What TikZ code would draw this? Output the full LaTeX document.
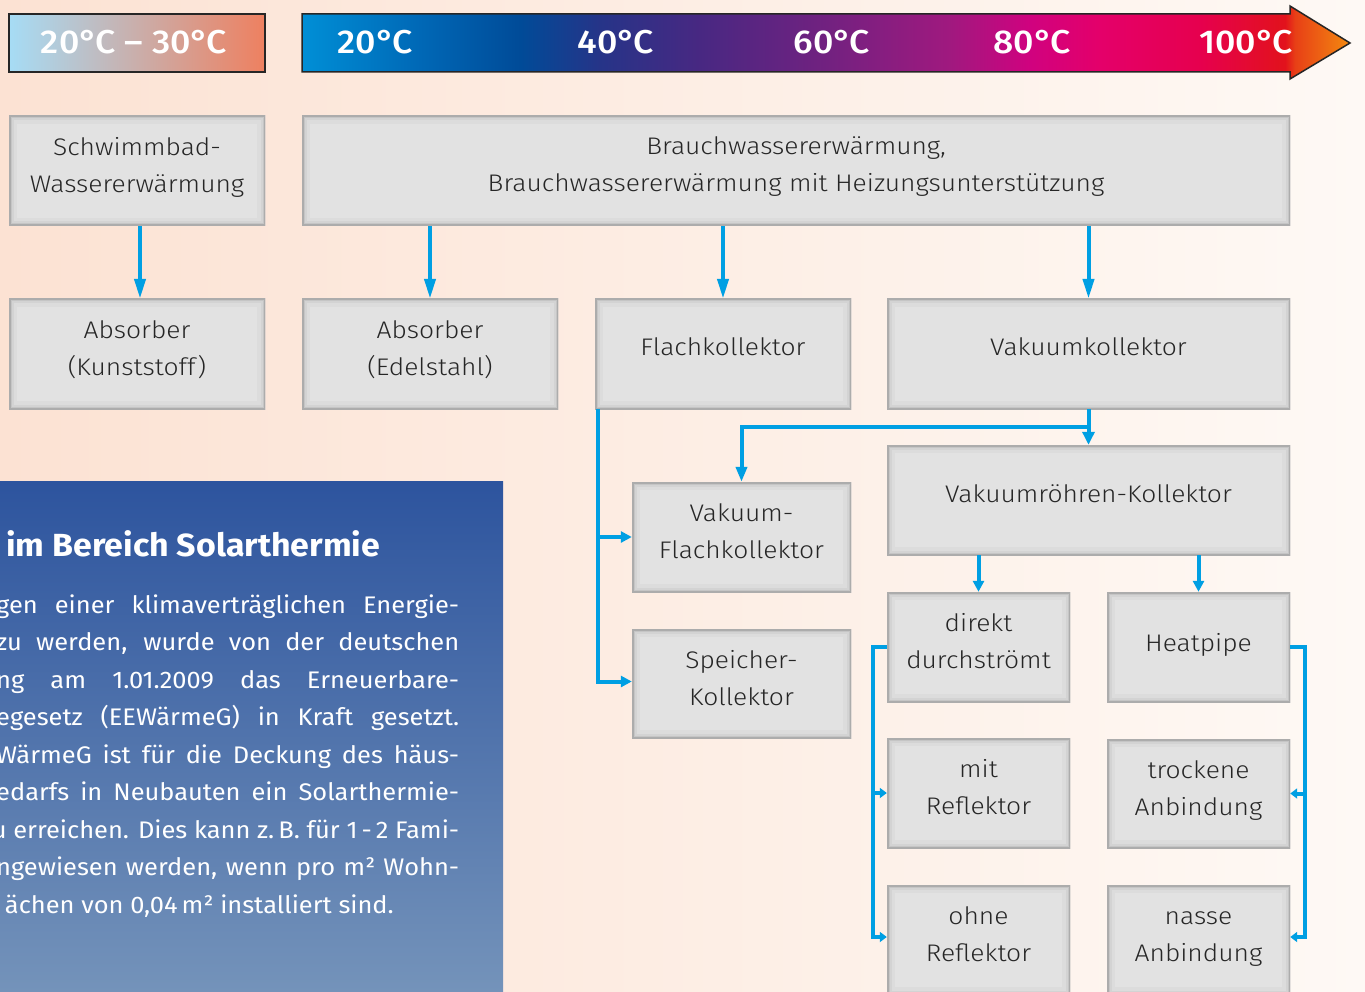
\documentclass[tikz,border=0pt]{standalone}
\usepackage{fontspec}
\setmainfont{Fira Sans}[FakeStretch=1.06]
\newfontfamily\boxfont{Fira Sans Light}[FakeStretch=1.1]
\newfontfamily\medfont{Fira Sans Medium}[FakeStretch=1.08]
\usetikzlibrary{arrows.meta,calc}

\definecolor{bgL}{RGB}{252,226,211}
\definecolor{bgR}{RGB}{254,249,245}
\definecolor{arrblue}{RGB}{0,159,227}
\definecolor{boxfill}{RGB}{226,226,226}
\definecolor{boxedge}{RGB}{172,172,172}
\definecolor{band1}{RGB}{220,220,220}
\definecolor{band2}{RGB}{211,211,211}
\definecolor{band3}{RGB}{197,197,197}
\definecolor{txtgray}{RGB}{38,38,38}
\definecolor{panelTop}{RGB}{45,84,158}
\definecolor{panelBot}{RGB}{116,147,186}
\definecolor{legL}{RGB}{166,220,245}
\definecolor{legR}{RGB}{238,128,96}
\definecolor{t1}{RGB}{0,143,214}
\definecolor{t2}{RGB}{0,104,182}
\definecolor{t3}{RGB}{0,75,152}
\definecolor{t4}{RGB}{38,52,136}
\definecolor{t5}{RGB}{72,40,130}
\definecolor{t6}{RGB}{115,33,128}
\definecolor{t7}{RGB}{160,25,127}
\definecolor{t8}{RGB}{208,2,127}
\definecolor{t9}{RGB}{228,0,106}
\definecolor{t10}{RGB}{230,0,78}
\definecolor{t11}{RGB}{226,18,28}
\definecolor{t12}{RGB}{232,64,22}
\definecolor{t13}{RGB}{243,138,16}

\pgfdeclarehorizontalshading{tempbar}{100bp}{color(0bp)=(t1); color(25bp)=(t1); color(30.63bp)=(t2); color(35.40bp)=(t3); color(39.22bp)=(t4); color(43.99bp)=(t5); color(50.19bp)=(t6); color(55.92bp)=(t7); color(59.73bp)=(t8); color(63.07bp)=(t9); color(67.84bp)=(t10); color(71.90bp)=(t11); color(72.38bp)=(t12); color(75bp)=(t13); color(100bp)=(t13)}

\newcommand\jline[1]{\hbox to 463pt{\hskip 0pt minus 1fill\relax #1}}
\newcommand\dgC{°\kern-2.5pt C}
\newcommand\gbox[7]{%
  \node[gbox, minimum width={#4-#2}, minimum height={#5-#3}] (#1) at ({(#2+#4)/2},{(#3+#5)/2}) {};
  \node[lbl] (#1-t) at ([yshift=#6]#1.center) {\strut#7\strut};}

\begin{document}
\begin{tikzpicture}[x=1pt,y=-1pt,
  gbox/.style={fill=boxfill, inner sep=0pt,
    path picture={
      \draw[band1, line width=16pt] (path picture bounding box.south west) rectangle (path picture bounding box.north east);
      \draw[band2, line width=9pt] (path picture bounding box.south west) rectangle (path picture bounding box.north east);
      \draw[band3, line width=5pt] (path picture bounding box.south west) rectangle (path picture bounding box.north east);
      \draw[boxedge, line width=3pt] (path picture bounding box.south west) rectangle (path picture bounding box.north east);
    }},
  lbl/.style={align=center, text=txtgray, inner sep=0pt, font=\boxfont\fontsize{24}{37}\selectfont},
  temp/.style={text=white, inner sep=0pt, font=\medfont\fontsize{33}{36}\selectfont},
  bodyline/.style={anchor=base west, inner sep=0pt, text=white, font=\fontsize{24}{30}\selectfont},
  conn/.style={draw=arrblue, line width=4pt, -{Triangle[length=20pt,width=11pt]}},
  connm/.style={draw=arrblue, line width=4pt, -{Triangle[length=13pt,width=12pt]}},
  conn2/.style={draw=arrblue, line width=4pt, -{Triangle[length=11pt,width=11pt]}},
  conn3/.style={draw=arrblue, line width=4pt, -{Triangle[length=7pt,width=10pt]}},
]
\useasboundingbox (0,0) rectangle (1365,992);
\clip (0,0) rectangle (1365,992);
\shade[left color=bgL, right color=bgR] (0,0) rectangle (1365,992);

% legend box
\shadedraw[left color=legL, right color=legR, draw=black!85, line width=1.5pt] (9,14) rectangle (265,72);
\node[temp] (leg) at (134,42) {20\dgC\ – 30\dgC};

% temperature arrow
\shadedraw[shading=tempbar, draw=black!85, line width=1.5pt]
  (302,14) -- (1290,14) -- (1290,6) -- (1350,43) -- (1290,79) -- (1290,72) -- (302,72) -- cycle;
\node[temp] (c20) at (375,42) {20\dgC};
\node[temp] (c40) at (616,42) {40\dgC};
\node[temp] (c60) at (832,42) {60\dgC};
\node[temp] (c80) at (1032,42) {80\dgC};
\node[temp] (c100) at (1246,42) {100\dgC};

% blue panel
\shade[top color=panelTop, bottom color=panelBot] (0,481) rectangle (503,992);
\node[anchor=base west, inner sep=0pt, text=white, font=\bfseries\fontsize{32}{36}\selectfont] (head) at (6,556) {im Bereich Solarthermie};
\node[bodyline] (b1) at (-4,613) {\jline{gen einer klimaverträglichen Energie-}};
\node[bodyline] (b2) at (-4,650.5) {\jline{zu werden, wurde von der deutschen}};
\node[bodyline] (b3) at (-4,688) {\jline{ng am 1.01.2009 das Erneuerbare-}};
\node[bodyline] (b4) at (-4,725.5) {\jline{egesetz (EEWärmeG) in Kraft gesetzt.}};
\node[bodyline] (b5) at (-4,763) {\jline{WärmeG ist für die Deckung des häus-}};
\node[bodyline] (b6) at (-4,800.5) {\jline{edarfs in Neubauten ein Solarthermie-}};
\node[bodyline] (b7) at (-4,838) {\jline{u erreichen. Dies kann z.\,B. für 1\,-\,2 Fami-}};
\node[bodyline] (b8) at (-4,875.5) {\jline{ngewiesen werden, wenn pro m² Wohn-}};
\node[bodyline, anchor=base east] (b9) at (394,913) {ächen von 0,04\,m² installiert sind.};

% boxes
\gbox{schw}{9}{116}{265}{226}{4.4pt}{Schwimmbad-\\Wassererwärmung}
\gbox{brauch}{302}{116}{1290}{226}{5.5pt}{Brauchwassererwärmung,\\Brauchwassererwärmung mit Heizungsunterstützung}
\gbox{absk}{9}{299}{265}{409}{4.4pt}{Absorber\\(Kunststoff)}
\gbox{abse}{302}{299}{558}{409}{4.4pt}{Absorber\\(Edelstahl)}
\gbox{flach}{595}{299}{851}{409}{6pt}{Flachkollektor}
\gbox{vak}{887}{299}{1290}{409}{6pt}{Vakuumkollektor}
\gbox{vroehr}{887}{445}{1290}{555}{5pt}{Vakuumröhren-Kollektor}
\gbox{vflach}{632}{482}{851}{592}{4.4pt}{Vakuum-\\Flachkollektor}
\gbox{speicher}{632}{629}{851}{738}{4.4pt}{Speicher-\\Kollektor}
\gbox{direkt}{887}{592}{1070}{702}{4.4pt}{direkt\\durchströmt}
\gbox{heat}{1107}{592}{1290}{702}{3pt}{Heatpipe}
\gbox{mit}{887}{738}{1070}{848}{4.4pt}{mit\\Reflektor}
\gbox{trocken}{1107}{739}{1290}{848}{4.4pt}{trockene\\Anbindung}
\gbox{ohne}{887}{885}{1070}{995}{4.4pt}{ohne\\Reflektor}
\gbox{nasse}{1107}{885}{1290}{995}{4.4pt}{nasse\\Anbindung}

% connectors
\draw[conn] ([xshift=3pt]schw.south) -- ([xshift=3pt]absk.north);
\draw[conn] (brauch.south -| abse.north) -- (abse.north);
\draw[conn] (brauch.south -| flach.north) -- (flach.north);
\draw[conn] (brauch.south -| vak.north) -- (vak.north);
\coordinate (vj) at ($(vak.south)+(0,18)$);
\draw[connm] (vak.south) -- (vroehr.north);
\draw[conn2, -{Triangle[length=15pt,width=11pt]}] (vj) -| (vflach.north);
\coordinate (fl) at ([xshift=3pt]flach.south west);
\draw[conn2] (fl) |- (vflach.west);
\draw[conn2] (fl) |- ([yshift=2pt]speicher.west);
\draw[conn2] (vroehr.south -| direkt.north) -- (direkt.north);
\draw[conn2] (vroehr.south -| heat.north) -- (heat.north);
\draw[conn3] (direkt.west) -- ++(-14,0) |- (mit.west);
\draw[conn3] (direkt.west) -- ++(-14,0) |- ([yshift=3pt]ohne.west);
\draw[conn3] (heat.east) -- ++(15,0) |- (trocken.east);
\draw[conn3] (heat.east) -- ++(15,0) |- ([yshift=3pt]nasse.east);
\end{tikzpicture}
\end{document}
